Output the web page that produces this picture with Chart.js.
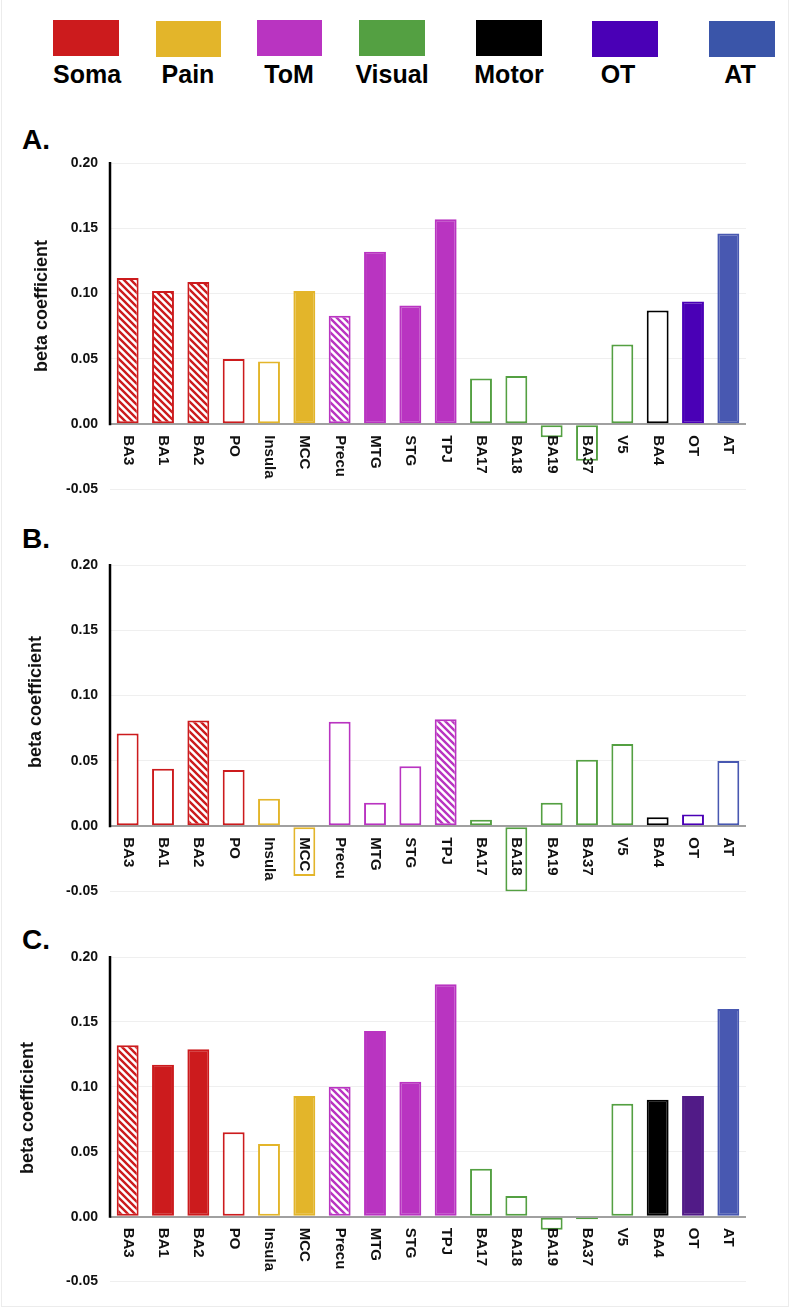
<!DOCTYPE html>
<html>
<head>
<meta charset="utf-8">
<script src="https://cdn.jsdelivr.net/npm/chart.js@4.4.1/dist/chart.umd.min.js"></script>
<style>
  body { margin: 0; background: #fff; font-family: "Liberation Sans", Arial, sans-serif; }
  #fig { position: relative; width: 790px; height: 1309px; overflow: hidden; }
  #frame { position: absolute; left: 1px; top: 0; width: 786px; height: 1306px; border: 1px solid #ececec; border-top: none; }
  .swatch { position: absolute; height: 36px; }
  .legtxt { position: absolute; top: 62px; width: 120px; margin-left: -60px; text-align: center; font-weight: bold; font-size: 25px; line-height: 25px; color: #000; }
  .panel { position: absolute; left: 22px; font-weight: bold; font-size: 28px; line-height: 28px; color: #000; }
  canvas { position: absolute; left: 0; }
</style>
</head>
<body>
<div id="fig">
  <div id="frame"></div>
  <div id="legend"></div>
  <div class="panel" style="top:126px">A.</div>
  <div class="panel" style="top:525px">B.</div>
  <div class="panel" style="top:926px">C.</div>
  <canvas id="chartA" width="790" height="410" style="top:100px"></canvas>
  <canvas id="chartB" width="790" height="412" style="top:500px"></canvas>
  <canvas id="chartC" width="790" height="412" style="top:890px"></canvas>
</div>
<script>
// Regiões e redes
const regions = ['BA3', 'BA1', 'BA2', 'PO', 'Insula', 'MCC', 'Precu', 'MTG', 'STG', 'TPJ',
                 'BA17', 'BA18', 'BA19', 'BA37', 'V5', 'BA4', 'OT', 'AT'];
const networks = ['Soma', 'Soma', 'Soma', 'Soma', 'Pain', 'Pain', 'ToM', 'ToM', 'ToM', 'ToM',
                  'Visual', 'Visual', 'Visual', 'Visual', 'Visual', 'Motor', 'OT', 'AT'];
const legendNames = ['Soma', 'Pain', 'ToM', 'Visual', 'Motor', 'OT', 'AT'];

// Coeficientes beta
const betaA = [0.112, 0.102, 0.109, 0.050, 0.048, 0.102, 0.083, 0.132, 0.091, 0.157,
               0.035, 0.037, -0.010, -0.028, 0.061, 0.087, 0.094, 0.146];
const betaB = [0.071, 0.044, 0.081, 0.043, 0.021, -0.038, 0.080, 0.018, 0.046, 0.082,
               0.005, -0.050, 0.018, 0.051, 0.063, 0.007, 0.009, 0.050];
const betaC = [0.132, 0.117, 0.129, 0.065, 0.056, 0.093, 0.100, 0.143, 0.104, 0.179,
               0.037, 0.016, -0.010, -0.002, 0.087, 0.090, 0.093, 0.160];

// s = cheio, h = hachurado, o = contorno
const fillA = ['h', 'h', 'h', 'o', 'o', 's', 'h', 's', 's', 's', 'o', 'o', 'o', 'o', 'o', 'o', 's', 's'];
const fillB = ['o', 'o', 'h', 'o', 'o', 'o', 'o', 'o', 'o', 'h', 'o', 'o', 'o', 'o', 'o', 'o', 'o', 'o'];
const fillC = ['h', 's', 's', 'o', 'o', 's', 'h', 's', 's', 's', 'o', 'o', 'o', 'o', 'o', 's', 's', 's'];

const yTicks = [-0.05, 0, 0.05, 0.10, 0.15, 0.20];

const netColors = {
    Soma: '#cc1b1d', Pain: '#e3b52a', ToM: '#b934c1', Visual: '#54a042',
    Motor: '#000000', OT: '#4a00b6', AT: '#4858b1'
};
const legendColors = Object.assign({}, netColors, { AT: '#3a55a9' });

const FONT = '"Liberation Sans", Arial, sans-serif';

// Legenda
const legendBoxes = [
    { x: 53, y: 20, w: 66, t: 87 }, { x: 156, y: 21, w: 65, t: 188 },
    { x: 257, y: 20, w: 65, t: 289 }, { x: 359, y: 20, w: 66, t: 392 },
    { x: 476, y: 20, w: 66, t: 509 }, { x: 592, y: 21, w: 66, t: 618 },
    { x: 709, y: 21, w: 66, t: 740 }
];
const legendEl = document.getElementById('legend');
legendNames.forEach((name, i) => {
    const b = legendBoxes[i];
    const sw = document.createElement('div');
    sw.className = 'swatch';
    sw.style.cssText = `left:${b.x}px;top:${b.y}px;width:${b.w}px;background:${legendColors[name]};`;
    legendEl.appendChild(sw);
    const tx = document.createElement('div');
    tx.className = 'legtxt';
    tx.style.left = b.t + 'px';
    tx.textContent = name;
    legendEl.appendChild(tx);
});

// Hachura
function makeHatch(color) {
    const s = 7;
    const c = document.createElement('canvas');
    c.width = s; c.height = s;
    const g = c.getContext('2d');
    g.fillStyle = '#fff';
    g.fillRect(0, 0, s, s);
    g.strokeStyle = color;
    g.lineWidth = 2.4;
    g.beginPath();
    g.moveTo(0, 0); g.lineTo(s, s);
    g.moveTo(-s / 2, s / 2); g.lineTo(s / 2, s * 1.5);
    g.moveTo(s / 2, -s / 2); g.lineTo(s * 1.5, s / 2);
    g.stroke();
    return g.createPattern(c, 'repeat');
}

// Plugin: eixo, rótulos das regiões e título do eixo
const extrasPlugin = {
    id: 'extras',
    afterDraw(chart, args, opts) {
        const { ctx, chartArea } = chart;
        const xs = chart.scales.x, ys = chart.scales.y;
        const zero = ys.getPixelForValue(0);
        ctx.save();
        ctx.strokeStyle = '#000';
        ctx.lineWidth = 2.5;
        ctx.beginPath();
        ctx.moveTo(chartArea.left, ys.getPixelForValue(ys.max) - 1);
        ctx.lineTo(chartArea.left, zero + 1);
        ctx.stroke();

        ctx.fillStyle = '#111';
        ctx.font = 'bold 15px ' + FONT;
        ctx.textAlign = 'left';
        ctx.textBaseline = 'middle';
        chart.data.labels.forEach((lab, i) => {
            ctx.save();
            ctx.translate(xs.getPixelForValue(i), zero + 11);
            ctx.rotate(Math.PI / 2);
            ctx.fillText(lab, 0, 0);
            ctx.restore();
        });

        ctx.font = 'bold 18px ' + FONT;
        ctx.textAlign = 'center';
        ctx.translate(opts.titleX, opts.titleY);
        ctx.rotate(-Math.PI / 2);
        ctx.fillText('beta coefficient', 0, 0);
        ctx.restore();
    }
};

function buildChart(id, values, fills, pad, title, overrides) {
    const colors = networks.map(n => (overrides && overrides[n]) || netColors[n]);
    const bg = fills.map((f, i) => f === 's' ? colors[i] : f === 'h' ? makeHatch(colors[i]) : '#ffffff');
    return new Chart(document.getElementById(id), {
        type: 'bar',
        data: {
            labels: regions,
            datasets: [{
                data: values,
                backgroundColor: bg,
                borderColor: colors,
                borderWidth: 2,
                borderSkipped: false,
                categoryPercentage: 1,
                barPercentage: 0.62
            }]
        },
        options: {
            responsive: false,
            animation: false,
            layout: { padding: { left: 0, right: 44, top: pad[0], bottom: pad[1] } },
            plugins: {
                legend: { display: false },
                tooltip: { enabled: false },
                extras: title
            },
            scales: {
                x: {
                    display: false
                },
                y: {
                    min: -0.05,
                    max: 0.2,
                    afterBuildTicks: s => { s.ticks = yTicks.map(v => ({ value: v })); },
                    afterFit: s => { s.width = 110; },
                    border: { display: false },
                    grid: {
                        drawTicks: false,
                        color: c => Math.abs(c.tick.value) < 1e-9 ? '#a0a0a0' : '#efefef',
                        lineWidth: c => Math.abs(c.tick.value) < 1e-9 ? 2 : 1
                    },
                    ticks: {
                        padding: 12,
                        color: '#111',
                        font: { family: FONT, size: 14, weight: 'bold' },
                        callback: v => Number(v).toFixed(2)
                    }
                }
            }
        },
        plugins: [extrasPlugin]
    });
}

document.addEventListener('DOMContentLoaded', () => {
    buildChart('chartA', betaA, fillA, [63, 20], { titleX: 42, titleY: 206 });
    buildChart('chartB', betaB, fillB, [65, 20], { titleX: 36, titleY: 202 });
    buildChart('chartC', betaC, fillC, [67, 20], { titleX: 28, titleY: 218 }, { OT: '#511b87' });
});
</script>
</body>
</html>
